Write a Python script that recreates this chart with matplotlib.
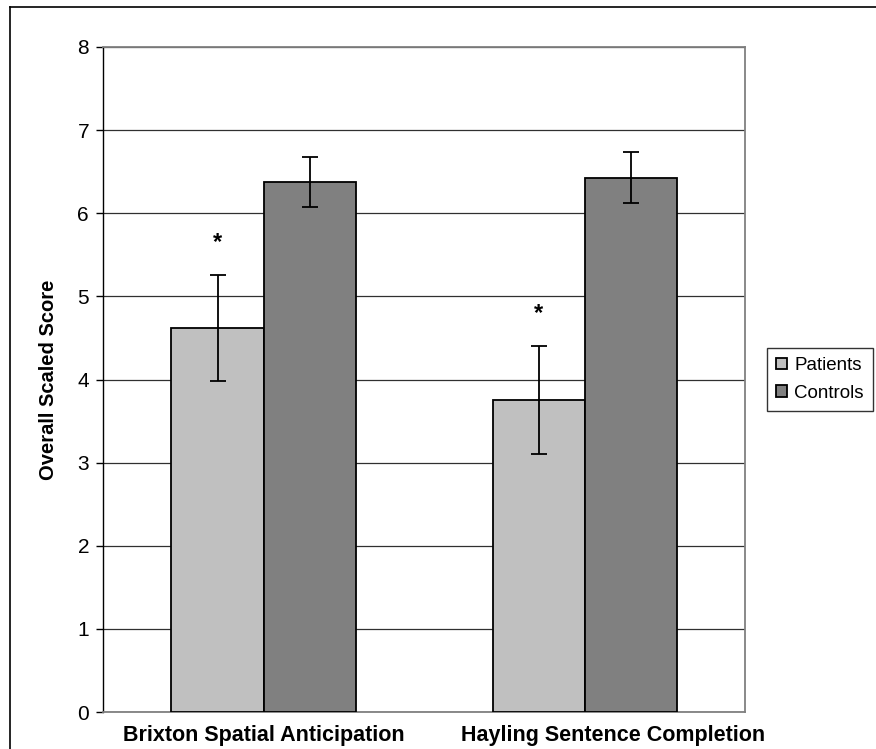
import matplotlib
matplotlib.use("Agg")
import matplotlib.pyplot as plt
import numpy as np
from matplotlib.lines import Line2D
from matplotlib.transforms import ScaledTranslation

plt.rcParams['font.family'] = ['Liberation Sans', 'DejaVu Sans']

categories = ['Brixton Spatial Anticipation', 'Hayling Sentence Completion']
groups = ['Patients', 'Controls']
means = {'Patients': [4.62, 3.75], 'Controls': [6.38, 6.43]}
errors = {'Patients': [0.64, 0.65], 'Controls': [0.30, 0.31]}
colors = {'Patients': '#c0c0c0', 'Controls': '#808080'}
significant = [True, True]

W, H = 876, 749
fig = plt.figure(figsize=(W / 100, H / 100), dpi=100)
left, right, top, bottom = 103, 745.5, 47, 712
ax = fig.add_axes([left / W, 1 - bottom / H, (right - left) / W, (bottom - top) / H])

x = np.arange(len(categories))
bw = 0.287
for i, g in enumerate(groups):
    pos = x + (i - 0.5) * bw
    ax.bar(pos, means[g], width=bw, color=colors[g], edgecolor='black',
           linewidth=1.3, label=g, zorder=3)
    ax.errorbar(pos, means[g], yerr=errors[g], fmt='none', ecolor='black',
                elinewidth=1.3, capsize=5.5, capthick=1.3, zorder=4)

# significance markers above patient bars
for j, sig in enumerate(significant):
    if sig:
        px = x[j] - 0.5 * bw
        ax.text(px, means['Patients'][j] + errors['Patients'][j] + 0.25, '*',
                ha='center', va='bottom', fontsize=17, fontweight='bold')

ax.set_xlim(-0.5, 1.5)
ax.set_ylim(0, 8)
ax.set_yticks(range(0, 9))
ax.yaxis.grid(True, color='#303030', linewidth=0.9, zorder=0)
ax.set_axisbelow(True)
for s in ['top', 'right', 'bottom']:
    ax.spines[s].set_color('#808080')
    ax.spines[s].set_linewidth(1.3)
ax.spines['left'].set_color('black')
ax.spines['left'].set_linewidth(1.0)
ax.tick_params(axis='y', length=5, width=1, labelsize=15, pad=5)
ax.tick_params(axis='x', length=0, labelsize=15.5, pad=9)
ax.set_xticks(x)
ax.set_xticklabels(categories, fontweight='bold')
# second label sits a bit right of its group in the original
lab = ax.get_xticklabels()[1]
lab.set_transform(lab.get_transform() + ScaledTranslation(0.28, 0, fig.dpi_scale_trans))
ax.set_ylabel('Overall Scaled Score', fontsize=14.5, fontweight='bold', labelpad=14)

leg = ax.legend(loc='center left', bbox_to_anchor=((767 - left) / (right - left), 0.5),
                frameon=True, fancybox=False, fontsize=13.5, handlelength=0.55,
                handleheight=0.55, handletextpad=0.4, borderpad=0.5,
                labelspacing=0.55, borderaxespad=0)
leg.get_frame().set_edgecolor('black')
leg.get_frame().set_linewidth(1.0)

fig.add_artist(Line2D([10 / W, 10 / W], [0, 1 - 7 / H], color='black', linewidth=1.2,
                      transform=fig.transFigure))
fig.add_artist(Line2D([10 / W, 1], [1 - 7 / H, 1 - 7 / H], color='black', linewidth=1.2,
                      transform=fig.transFigure))

fig.savefig('out.png', dpi=100)
